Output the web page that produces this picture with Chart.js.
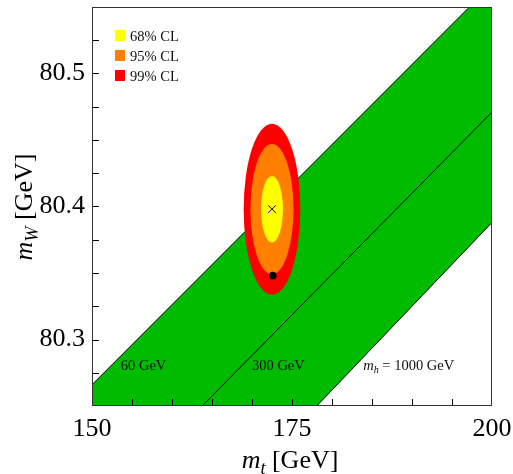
<!DOCTYPE html>
<html lang="en">
<head>
<meta charset="UTF-8">
<title>m_W versus m_t</title>
<script src="https://cdn.jsdelivr.net/npm/chart.js"></script>
<style>
  body { margin: 0; background: #fff; }
  .box { width: 513px; height: 474px; }
</style>
</head>
<body>
<div class="box"><canvas id="mwChart"></canvas></div>
<script>
// SM prediction lines for three Higgs masses, m_W at m_t = 150 and 200
const mtEnds = [150, 200];
const mw60 = [80.266, 80.567];
const mw300 = [80.166, 80.471];
const mw1000 = [80.073, 80.388];
const higgsLabels = ['60 GeV', '300 GeV', '1000 GeV'];

// measured (m_t, m_W) and half-axes of the confidence ellipses
const mtMeas = 172.5;
const mwMeas = 80.398;
const clNames = ['68% CL', '95% CL', '99% CL'];
const clHalfMt = [1.37, 2.69, 3.54];
const clHalfMw = [0.025, 0.049, 0.0643];

// fit point
const mtFit = 172.6;
const mwFit = 80.348;

const clColors = ['#ffff00', '#ff8000', '#ff0000'];
const bandGreen = '#00bb00';
const SERIF = '"Liberation Serif", "DejaVu Serif", serif';

Chart.defaults.font.family = SERIF;
Chart.defaults.color = '#000';

function linePts(ys) {
  return mtEnds.map((x, i) => ({ x: x, y: ys[i] }));
}

// text made of plain / italic / subscript pieces
function drawRuns(ctx, runs, x, y, size, align) {
  const fontFor = r => (r.it ? 'italic ' : '') + (r.sub ? size * 0.7 : size) + 'px ' + SERIF;
  let w = 0;
  runs.forEach(r => { ctx.font = fontFor(r); w += ctx.measureText(r.t).width; });
  let cx = align === 'center' ? x - w / 2 : x;
  ctx.textAlign = 'left';
  ctx.textBaseline = 'alphabetic';
  runs.forEach(r => {
    ctx.font = fontFor(r);
    ctx.fillText(r.t, cx, y + (r.sub ? size * 0.22 : 0));
    cx += ctx.measureText(r.t).width;
  });
}

// confidence ellipses, drawn right after the band so the markers sit on top
const ellipses = {
  id: 'ellipses',
  afterDatasetDraw(chart, args) {
    if (args.index !== 2) return;
    const { ctx, scales: { x, y } } = chart;
    const cx = x.getPixelForValue(mtMeas);
    const cy = y.getPixelForValue(mwMeas);
    ctx.save();
    for (let i = clNames.length - 1; i >= 0; i--) {
      const rx = x.getPixelForValue(mtMeas + clHalfMt[i]) - cx;
      const ry = cy - y.getPixelForValue(mwMeas + clHalfMw[i]);
      ctx.beginPath();
      ctx.ellipse(cx, cy, rx, ry, 0, 0, Math.PI * 2);
      ctx.fillStyle = clColors[i];
      ctx.fill();
    }
    ctx.restore();
  }
};

// frame, inward ticks, legend and line labels
const decorations = {
  id: 'decorations',
  afterDraw(chart) {
    const { ctx, chartArea: a, scales: { x, y } } = chart;
    ctx.save();
    ctx.strokeStyle = '#000';
    ctx.lineWidth = 1;
    ctx.beginPath();
    x.ticks.forEach(t => {
      if (t.value <= x.min || t.value >= x.max) return;
      const px = Math.round(x.getPixelForValue(t.value)) + 0.5;
      ctx.moveTo(px, a.bottom);
      ctx.lineTo(px, a.bottom - 7);
    });
    y.ticks.forEach(t => {
      if (t.value <= y.min + 1e-9 || t.value >= y.max - 1e-9) return;
      const py = Math.round(y.getPixelForValue(t.value)) + 0.5;
      ctx.moveTo(a.left, py);
      ctx.lineTo(a.left + 7, py);
    });
    ctx.stroke();
    ctx.strokeStyle = '#333';
    ctx.strokeRect(a.left + 0.5, a.top + 0.5, a.width - 1, a.height - 1);

    // legend
    clNames.forEach((name, i) => {
      ctx.fillStyle = clColors[i];
      ctx.fillRect(a.left + 23, a.top + 23 + i * 20, 10, 11);
      ctx.fillStyle = '#111';
      drawRuns(ctx, [{ t: name }], a.left + 38, a.top + 33.5 + i * 20, 14.5, 'left');
    });

    // Higgs mass labels
    const labelMt = [153.6, 170.0, 183.9];
    const ly = y.getPixelForValue(80.277);
    drawRuns(ctx, [{ t: higgsLabels[0] }], x.getPixelForValue(labelMt[0]), ly, 14.5, 'left');
    drawRuns(ctx, [{ t: higgsLabels[1] }], x.getPixelForValue(labelMt[1]), ly, 14.5, 'left');
    drawRuns(ctx, [{ t: 'm', it: true }, { t: 'h', it: true, sub: true }, { t: ' = ' + higgsLabels[2] }],
      x.getPixelForValue(labelMt[2]), ly, 14.5, 'left');

    // axis titles
    ctx.fillStyle = '#000';
    drawRuns(ctx, [{ t: 'm', it: true }, { t: 't', it: true, sub: true }, { t: ' [GeV]' }],
      (a.left + a.right) / 2 - 2, 468, 26, 'center');
    ctx.translate(32, 207);
    ctx.rotate(-Math.PI / 2);
    drawRuns(ctx, [{ t: 'm', it: true }, { t: 'W', it: true, sub: true }, { t: ' [GeV]' }],
      0, 0, 26, 'center');
    ctx.restore();
  }
};

new Chart(document.getElementById('mwChart'), {
  type: 'line',
  data: {
    datasets: [
      { data: [{ x: mtFit, y: mwFit }], showLine: false, pointRadius: 3.8,
        pointBackgroundColor: '#000', pointBorderWidth: 0 },
      { data: [{ x: mtMeas, y: mwMeas }], showLine: false, pointStyle: 'crossRot',
        pointRadius: 5.5, pointBorderColor: '#000', pointBorderWidth: 1 },
      { data: linePts(mw60), borderColor: '#000', borderWidth: 1, pointRadius: 0,
        fill: '+2', backgroundColor: bandGreen },
      { data: linePts(mw300), borderColor: '#000', borderWidth: 1, pointRadius: 0, fill: false },
      { data: linePts(mw1000), borderColor: '#000', borderWidth: 1, pointRadius: 0, fill: false }
    ]
  },
  options: {
    responsive: true,
    maintainAspectRatio: false,
    animation: false,
    events: [],
    layout: { padding: { top: 7, right: 21, left: 0, bottom: 0 } },
    plugins: {
      legend: { display: false },
      tooltip: { enabled: false },
      filler: { drawTime: 'beforeDatasetsDraw' }
    },
    scales: {
      x: {
        type: 'linear', min: 150, max: 200,
        grid: { display: false, drawTicks: false },
        border: { display: false },
        ticks: {
          stepSize: 5, autoSkip: false, maxRotation: 0, padding: 8,
          font: { size: 26 },
          callback: v => (v % 25 === 0 ? String(v) : '')
        },
        afterFit(scale) {
          scale.height = 68;
          scale.paddingLeft = 0;
          scale.paddingRight = 0;
        }
      },
      y: {
        type: 'linear', min: 80.25, max: 80.55,
        grid: { display: false, drawTicks: false },
        border: { display: false },
        ticks: {
          stepSize: 0.025, autoSkip: false, padding: 7,
          font: { size: 26 },
          callback: v => (Math.abs(v * 10 - Math.round(v * 10)) < 1e-6 ? v.toFixed(1) : '')
        },
        afterFit(scale) {
          scale.width = 92;
          scale.paddingTop = 0;
          scale.paddingBottom = 0;
        }
      }
    }
  },
  plugins: [ellipses, decorations]
});
</script>
</body>
</html>
